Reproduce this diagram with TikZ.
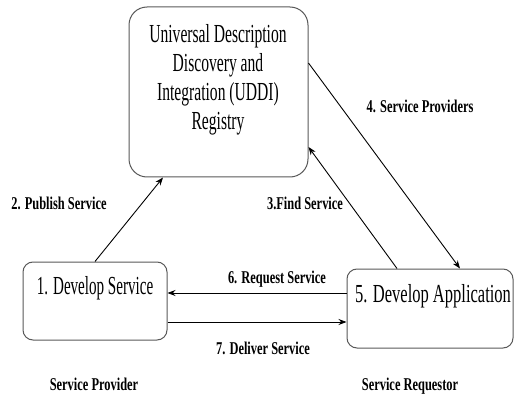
\documentclass[tikz,border=0pt]{standalone}
\usepackage{fontspec}
\setmainfont{Liberation Serif}
\usetikzlibrary{arrows.meta}
\newcommand{\sq}[2]{\scalebox{#1}[1]{#2}}
\tikzset{
  rbox/.style={draw=black!65, line width=1pt, rounded corners=12pt, fill=white, inner sep=0pt},
  big/.style={font=\fontsize{26}{29}\selectfont, inner sep=0pt, anchor=base},
  lbl/.style={font=\fontsize{18}{20}\selectfont\bfseries, inner sep=0pt, anchor=base},
  flow/.style={draw=black, line width=0.9pt, -{Stealth[length=8pt,width=6pt]}},
}
\begin{document}
\begin{tikzpicture}[x=1pt,y=-1pt]
\useasboundingbox (0,0) rectangle (515,396);

% registry and the two parties
\node[rbox, rounded corners=18pt, minimum width=179pt, minimum height=170pt] (uddi) at (218.5,92) {};
\node[rbox, rounded corners=10pt, minimum width=144pt, minimum height=78pt] (b1) at (95,301) {};
\node[rbox, rounded corners=10pt, minimum width=166pt, minimum height=79pt] (b5) at (430,308.5) {};

% box texts
\node[big] (t1) at (218,43) {\sq{0.60}{Universal Description}};
\node[big] (t2) at (218,72) {\sq{0.60}{Discovery and}};
\node[big] (t3) at (218,101) {\sq{0.60}{Integration (UDDI)}};
\node[big] (t4) at (218,130) {\sq{0.60}{Registry}};
\node[big] (d1) at (95,294) {\sq{0.58}{1. Develop Service}};
\node[big] (d5) at (433,302) {\sq{0.635}{5. Develop Application}};

% connectors
\draw[flow] (b1.north) -- ([xshift=-55.5pt]uddi.south);
\draw[flow] ([yshift=29pt]uddi.east) -- ([xshift=30pt]b5.north);
\draw[flow] ([xshift=-33pt]b5.north) -- ([yshift=-55pt]uddi.east);
\draw[flow] ([yshift=15.5pt]b5.west) -- ([yshift=8pt]b1.east);
\draw[flow] ([yshift=-21pt]b1.east) -- ([yshift=-13.5pt]b5.west);

% connector labels
\node[lbl] (l2) at (59,210) {\sq{0.69}{2. Publish Service}};
\node[lbl] (l4) at (420,113) {\sq{0.69}{4. Service Providers}};
\node[lbl] (l3) at (305,210) {\sq{0.69}{3.Find Service}};
\node[lbl] (l6) at (277,283) {\sq{0.69}{6. Request Service}};
\node[lbl] (l7) at (263,354) {\sq{0.69}{7. Deliver Service}};

% role captions
\node[lbl] (sp) at (94,390) {\sq{0.69}{Service Provider}};
\node[lbl] (sr) at (410,390) {\sq{0.69}{Service Requestor}};
\end{tikzpicture}
\end{document}
